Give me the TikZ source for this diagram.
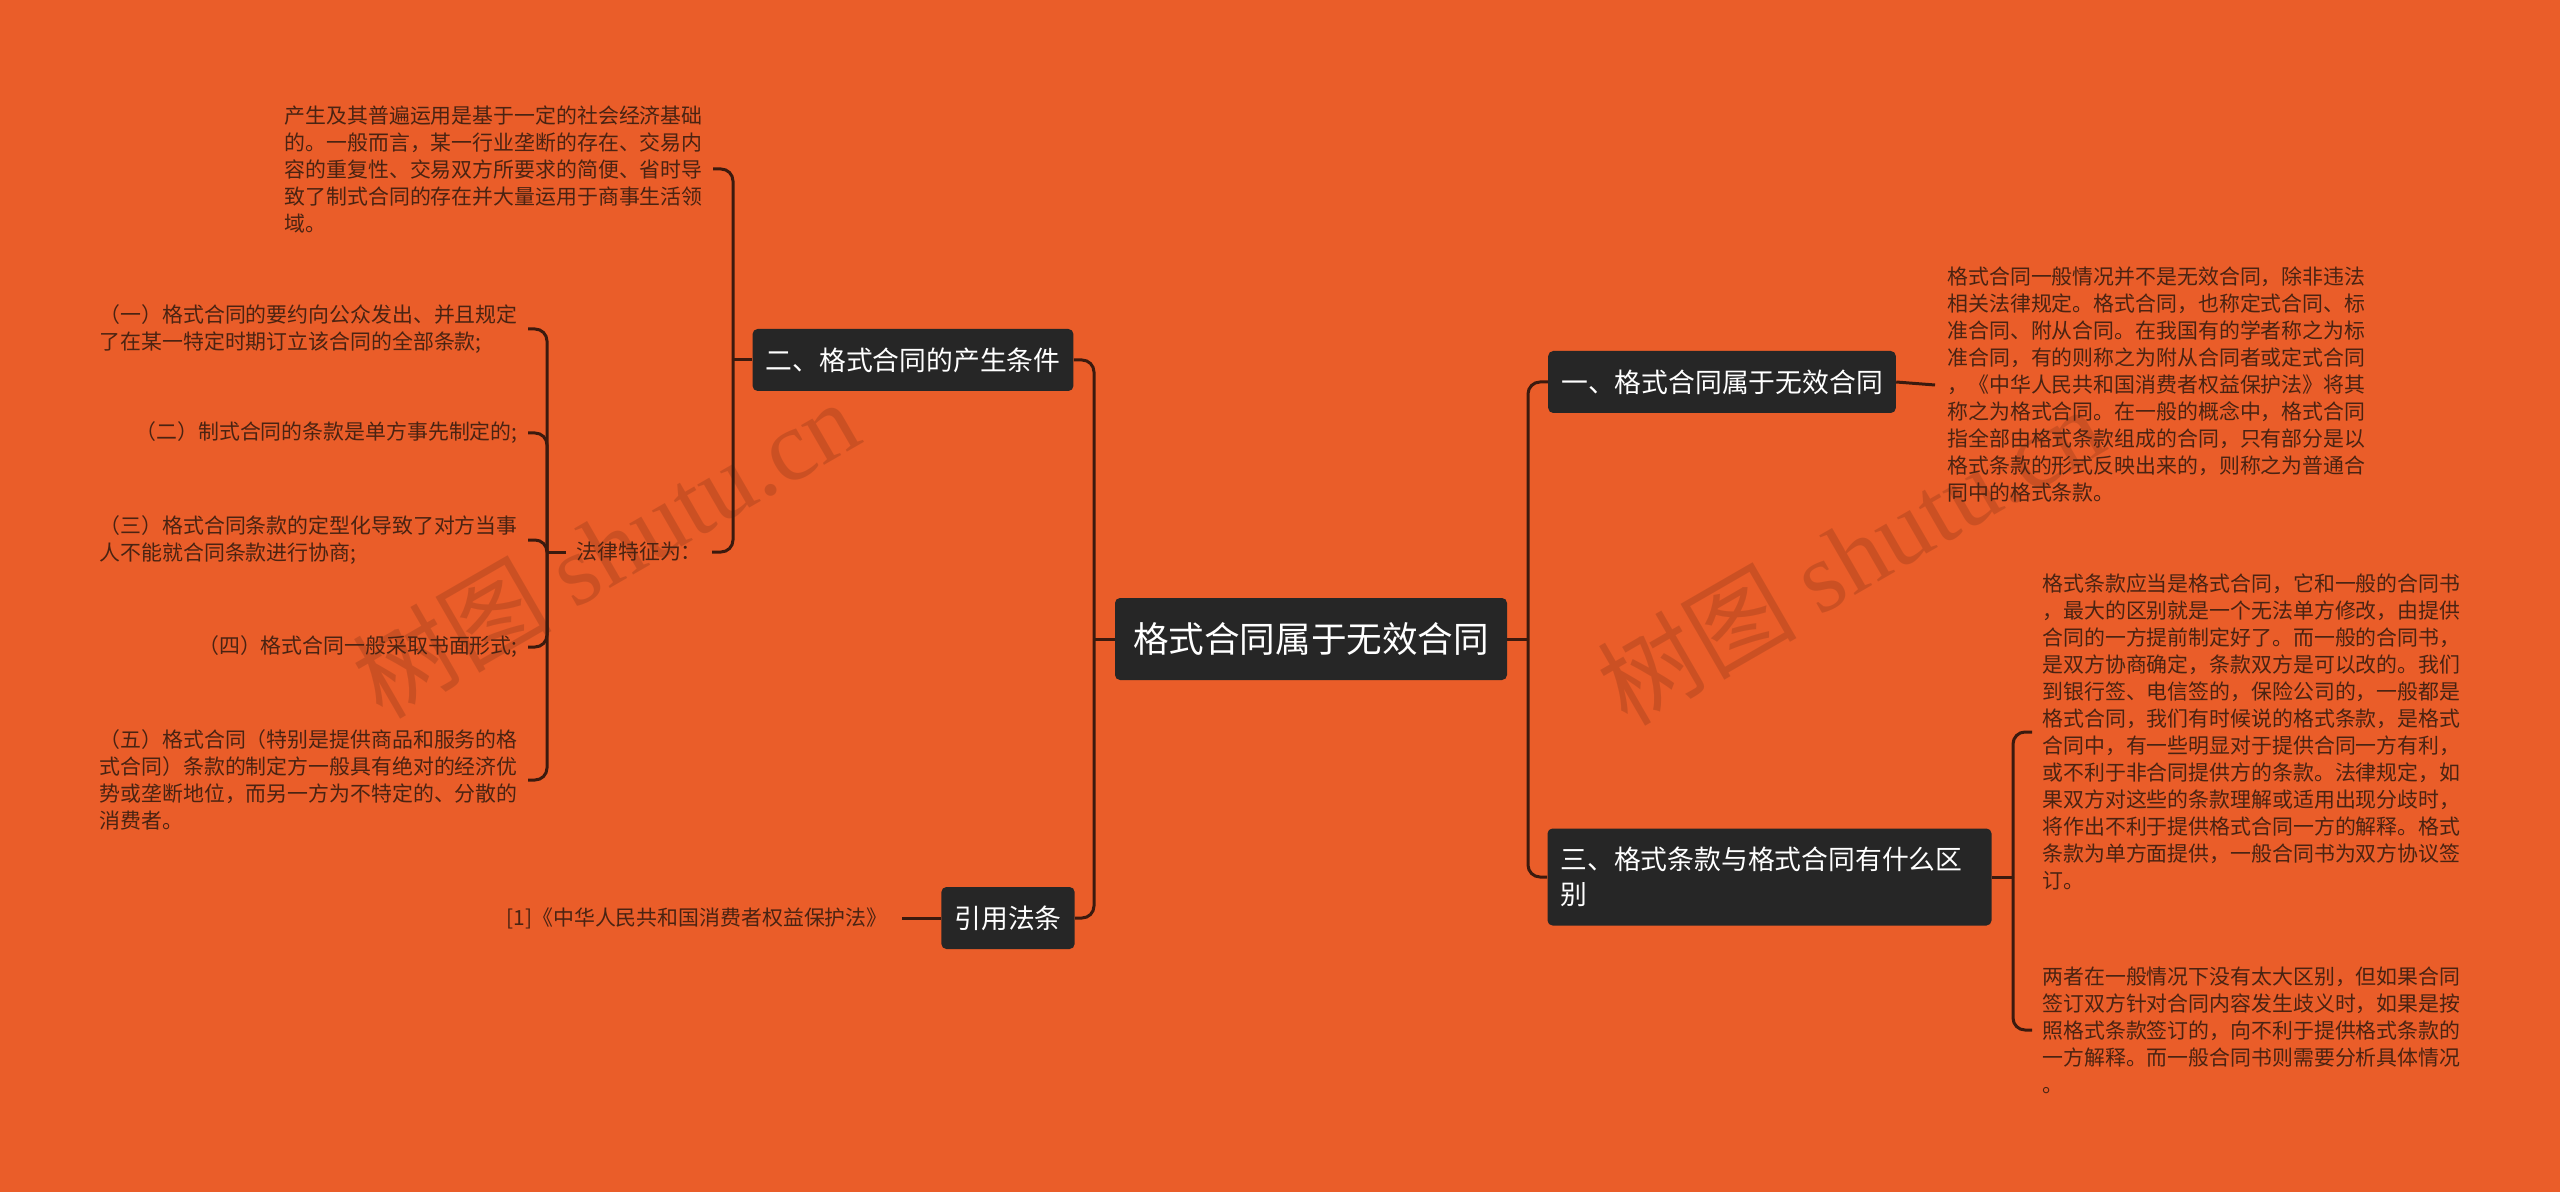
\documentclass[tikz,border=0pt]{standalone}
\usepackage{fontspec}
\setmainfont{Noto Sans CJK SC}
\newfontfamily\markfont{Liberation Serif}
\definecolor{bgorange}{HTML}{EA5D29}
\definecolor{boxfill}{HTML}{262626}
\definecolor{wirecol}{HTML}{3B1A0E}
\definecolor{leafcol}{HTML}{4A2312}

\begin{document}
\begin{tikzpicture}[x=0.5pt, y=-0.5pt,
    topic/.style = {fill=boxfill, text=white, rounded corners=2.5pt,
        inner xsep=6.5pt, minimum height=31pt, font=\fontsize{13.4}{17.5}\selectfont},
    rootnode/.style = {topic, inner xsep=9pt, minimum height=41pt,
        font=\fontsize{17.8}{22}\selectfont},
    leaf/.style = {text=leafcol, inner sep=0pt, align=left,
        font=\fontsize{10.45}{13.5}\selectfont},
    wire/.style = {draw=wirecol, line width=1.5pt, rounded corners=6pt},
    watermark/.style = {rotate=30, text=black, opacity=.13, font=\fontsize{50}{50}\selectfont}]
\fill[bgorange] (0,0) rectangle (2560,1192);
\useasboundingbox (0,0) rectangle (2560,1192);

% watermark
\node[watermark] (markA) at (605,548) {树图 {\markfont shutu.cn}};
\node[watermark] (markB) at (1850,555) {树图 {\markfont shutu.cn}};

% centre and main topics
\node[rootnode] (root) at (1311,639) {格式合同属于无效合同};
\node[topic] (cond) at (913,360) {二、格式合同的产生条件};
\node[topic] (cite) at (1008,918) {引用法条};
\node[topic] (inval) at (1722,382) {一、格式合同属于无效合同};
\node[topic, text width=209pt, align=left, minimum height=48.5pt] (diff) at (1769.5,877)
    {三、格式条款与格式合同有什么区\\别};

% right leaves
\node[leaf, anchor=west] (invaltxt) at (1947,385) {格式合同一般情况并不是无效合同，除非违法\\
相关法律规定。格式合同，也称定式合同、标\\
准合同、附从合同。在我国有的学者称之为标\\
准合同，有的则称之为附从合同者或定式合同\\
，《中华人民共和国消费者权益保护法》将其\\
称之为格式合同。在一般的概念中，格式合同\\
指全部由格式条款组成的合同，只有部分是以\\
格式条款的形式反映出来的，则称之为普通合\\
同中的格式条款。};
\node[leaf, anchor=west] (difftxtA) at (2042,732) {格式条款应当是格式合同，它和一般的合同书\\
，最大的区别就是一个无法单方修改，由提供\\
合同的一方提前制定好了。而一般的合同书，\\
是双方协商确定，条款双方是可以改的。我们\\
到银行签、电信签的，保险公司的，一般都是\\
格式合同，我们有时候说的格式条款，是格式\\
合同中，有一些明显对于提供合同一方有利，\\
或不利于非合同提供方的条款。法律规定，如\\
果双方对这些的条款理解或适用出现分歧时，\\
将作出不利于提供格式合同一方的解释。格式\\
条款为单方面提供，一般合同书为双方协议签\\
订。};
\node[leaf, anchor=west] (difftxtB) at (2042,1030) {两者在一般情况下没有太大区别，但如果合同\\
签订双方针对合同内容发生歧义时，如果是按\\
照格式条款签订的，向不利于提供格式条款的\\
一方解释。而一般合同书则需要分析具体情况\\
。};

% left leaves
\node[leaf, anchor=east] (origin) at (703,169) {产生及其普遍运用是基于一定的社会经济基础\\
的。一般而言，某一行业垄断的存在、交易内\\
容的重复性、交易双方所要求的简便、省时导\\
致了制式合同的存在并大量运用于商事生活领\\
域。};
\node[leaf, anchor=west] (feat) at (576,552) {法律特征为：};
\node[leaf, anchor=east] (featA) at (518,329) {（一）格式合同的要约向公众发出、并且规定\\
了在某一特定时期订立该合同的全部条款;};
\node[leaf, anchor=east] (featB) at (518,433) {（二）制式合同的条款是单方事先制定的;};
\node[leaf, anchor=east] (featC) at (518,540) {（三）格式合同条款的定型化导致了对方当事\\
人不能就合同条款进行协商;};
\node[leaf, anchor=east] (featD) at (518,647) {（四）格式合同一般采取书面形式;};
\node[leaf, anchor=east] (featE) at (518,780) {（五）格式合同（特别是提供商品和服务的格\\
式合同）条款的制定方一般具有绝对的经济优\\
势或垄断地位，而另一方为不特定的、分散的\\
消费者。};
\node[leaf, anchor=east] (law) at (888,918) {[1]《中华人民共和国消费者权益保护法》};

% connectors
\coordinate (lspine) at (1094,639);
\coordinate (rspine) at (1528,639);
\coordinate (cspine) at (733,360);
\coordinate (fspine) at (547,552);
\coordinate (dspine) at (2013,877);
\draw[wire] (root.west) -- (lspine);
\draw[wire] (root.east) -- (rspine);
\draw[wire] (cond.east) -| (lspine);
\draw[wire] (cite.east) -| (lspine);
\draw[wire] (inval.west) -| (rspine);
\draw[wire] (diff.west) -| (rspine);
\draw[wire] (inval.east) -- ([xshift=-6pt]invaltxt.west);
\draw[wire] (diff.east) -- (dspine);
\draw[wire] ([xshift=-5pt]difftxtA.west) -| (dspine);
\draw[wire] ([xshift=-5pt]difftxtB.west) -| (dspine);
\draw[wire] (cond.west) -- (cspine);
\draw[wire] ([xshift=5pt]origin.east) -| (cspine);
\draw[wire] ([xshift=5pt]feat.east) -| (cspine);
\draw[wire] ([xshift=-5pt]feat.west) -- (fspine);
\foreach \f in {featA,featB,featC,featD,featE}
    \draw[wire] ([xshift=5pt]\f.east) -| (fspine);
\draw[wire] ([xshift=7pt]law.east) -- (cite.west);
\end{tikzpicture}
\end{document}
